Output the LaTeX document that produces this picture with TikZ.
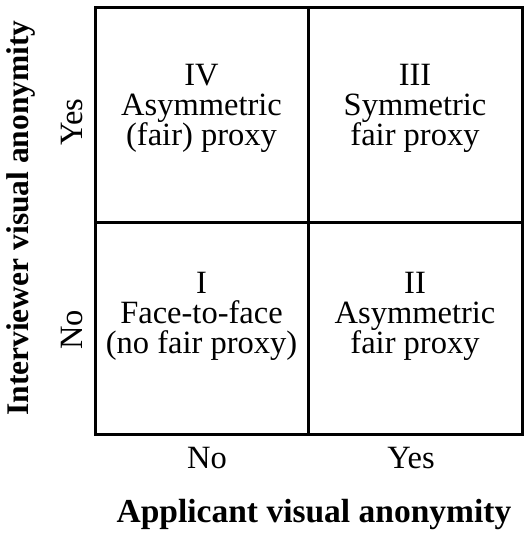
\documentclass[tikz,border=0pt]{standalone}
\usepackage{fontspec}
\setmainfont{Liberation Serif}
\begin{document}
\begin{tikzpicture}[x=1pt,y=-1pt,
  grid/.style={line width=3pt},
  cell/.style={align=center,font=\fontsize{32.5}{30}\selectfont,inner sep=0pt},
  tick/.style={font=\fontsize{32.5}{30}\selectfont,inner sep=0pt,anchor=base},
  axis/.style={font=\fontsize{33.5}{36}\selectfont\bfseries,inner sep=0pt,anchor=base}]
\useasboundingbox (0,0) rectangle (529,535);
\coordinate (tl) at (95,8);
\coordinate (br) at (522,434);
\draw[grid] (tl) rectangle (br);
\draw[grid] (308,8) -- (308,434);
\draw[grid] (95,222) -- (522,222);
\node[cell] (iv) at (201.5,108) {IV\\Asymmetric\\(fair) proxy};
\node[cell] (iii) at (415,108) {III\\Symmetric\\fair proxy};
\node[cell] (i) at (201.5,316) {I\\Face-to-face\\(no fair proxy)};
\node[cell] (ii) at (415,316) {II\\Asymmetric\\fair proxy};
\node[tick,rotate=90] (yes1) at (82,122) {Yes};
\node[tick,rotate=90] (no1) at (82,330) {No};
\node[tick] (no2) at (207,468) {No};
\node[tick] (yes2) at (411,468) {Yes};
\node[axis] (xl) at (314,522) {Applicant visual anonymity};
\node[axis,rotate=90,font=\fontsize{31.5}{34}\selectfont\bfseries] (yl) at (28,218) {Interviewer visual anonymity};
\end{tikzpicture}
\end{document}
